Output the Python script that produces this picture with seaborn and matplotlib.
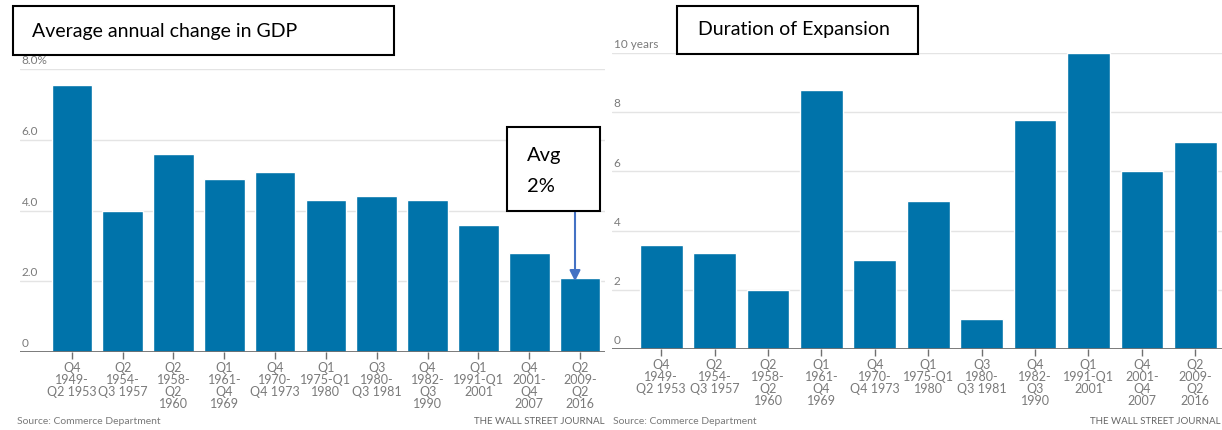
import matplotlib
matplotlib.use("Agg")
import matplotlib.pyplot as plt
from matplotlib.patches import Rectangle
import matplotlib.transforms as mtransforms
import pandas as pd
import seaborn as sns

# Expansion periods (shared x-axis categories)
periods = [
    "Q4\n1949-\nQ2 1953", "Q2\n1954-\nQ3 1957", "Q2\n1958-\nQ2\n1960",
    "Q1\n1961-\nQ4\n1969", "Q4\n1970-\nQ4 1973", "Q1\n1975-Q1\n1980",
    "Q3\n1980-\nQ3 1981", "Q4\n1982-\nQ3\n1990", "Q1\n1991-Q1\n2001",
    "Q4\n2001-\nQ4\n2007", "Q2\n2009-\nQ2\n2016",
]
# Average annual GDP change during each expansion (%)
gdp_change = [7.55, 4.0, 5.6, 4.9, 5.1, 4.3, 4.4, 4.3, 3.6, 2.8, 2.1]
# Length of each expansion (years)
duration_years = [3.5, 3.25, 2.0, 8.75, 3.0, 5.0, 1.0, 7.75, 10.0, 6.0, 7.0]

gdp_ticks = [0, 2, 4, 6, 8]
gdp_tick_labels = ["0", "2.0", "4.0", "6.0", "8.0%"]
dur_ticks = [0, 2, 4, 6, 8, 10]
dur_tick_labels = ["0", "2", "4", "6", "8", "10 years"]

W, H = 1222, 430
BAR = "#0073AA"
GRID = "#e4e4e4"
AXIS = "#707070"
LABEL = "#7a7a7a"

sns.set_theme(style="white")
plt.rcParams["font.family"] = ["Lato", "DejaVu Sans"]

fig = plt.figure(figsize=(W / 100, H / 100), dpi=100)


def px_rect(x0, y0, x1, y1):
    """Convert pixel box (top-left origin) to figure fraction rect."""
    return [x0 / W, 1 - y1 / H, (x1 - x0) / W, (y1 - y0) / H]


def draw_panel(ax, values, ticks, tick_labels, xlim):
    df = pd.DataFrame({"period": periods, "value": values})
    sns.barplot(data=df, x="period", y="value", ax=ax, color=BAR,
                saturation=1, width=0.8, zorder=3)
    ax.set_xlim(*xlim)
    ax.set_ylim(0, ticks[-1])
    for s in ax.spines.values():
        s.set_visible(False)
    trans = mtransforms.blended_transform_factory(ax.transAxes, ax.transData)
    for t, lab in zip(ticks, tick_labels):
        if t == 0:
            ax.axhline(0, color=AXIS, lw=1.3, zorder=4)
        else:
            ax.axhline(t, color=GRID, lw=1.0, zorder=1)
        ax.annotate(lab, xy=(0.003, t), xycoords=trans, xytext=(0, 2),
                    textcoords="offset points", ha="left", va="bottom",
                    fontsize=8.5, color=LABEL)
    ax.set_yticks([])
    ax.set_xlabel("")
    ax.set_ylabel("")
    ax.set_xticks(range(len(periods)))
    ax.set_xticklabels(periods, fontsize=9, color=LABEL, linespacing=1.0)
    ax.tick_params(axis="x", length=5, width=1, color=AXIS, pad=2,
                   bottom=True)


ax1 = fig.add_axes(px_rect(20, 69, 605, 352))
draw_panel(ax1, gdp_change, gdp_ticks, gdp_tick_labels, (-1.02, 10.49))

ax2 = fig.add_axes(px_rect(612, 53, 1222, 349))
draw_panel(ax2, duration_years, dur_ticks, dur_tick_labels, (-0.92, 10.5))

# Footers
for x_left, x_right in [(17, 605), (613, 1221)]:
    fig.text(x_left / W, 1 - 422 / H, "Source: Commerce Department",
             fontsize=7.5, color=LABEL, ha="left", va="center")
    fig.text(x_right / W, 1 - 422 / H, "THE WALL STREET JOURNAL",
             fontsize=7, color="#666666", ha="right", va="center")

# Title boxes
def boxed_text(x0, y0, x1, y1, lines, text_x, line_ys, size):
    fig.add_artist(Rectangle((x0 / W, 1 - y1 / H), (x1 - x0) / W,
                             (y1 - y0) / H, transform=fig.transFigure,
                             facecolor="white", edgecolor="black", lw=1.5,
                             zorder=10))
    for txt, ly in zip(lines, line_ys):
        fig.text(text_x / W, 1 - ly / H, txt, fontsize=size, color="black",
                 ha="left", va="center", zorder=11)


boxed_text(13, 6, 394, 55, ["Average annual change in GDP"], 32, [31], 14)
boxed_text(677, 6, 918, 54, ["Duration of Expansion"], 698, [30], 14)
boxed_text(507, 127, 600, 211, ["Avg", "2%"], 527, [155, 187], 14.5)

# Arrow pointing to the latest expansion's bar
ax1.annotate("", xy=(9.9, 2.0), xycoords="data",
             xytext=(575, H - 211), textcoords="figure pixels",
             arrowprops=dict(arrowstyle="-|>", color="#4472C4", lw=1.5,
                             mutation_scale=16, shrinkA=0, shrinkB=0),
             zorder=12)

fig.savefig("out.png", dpi=100)
